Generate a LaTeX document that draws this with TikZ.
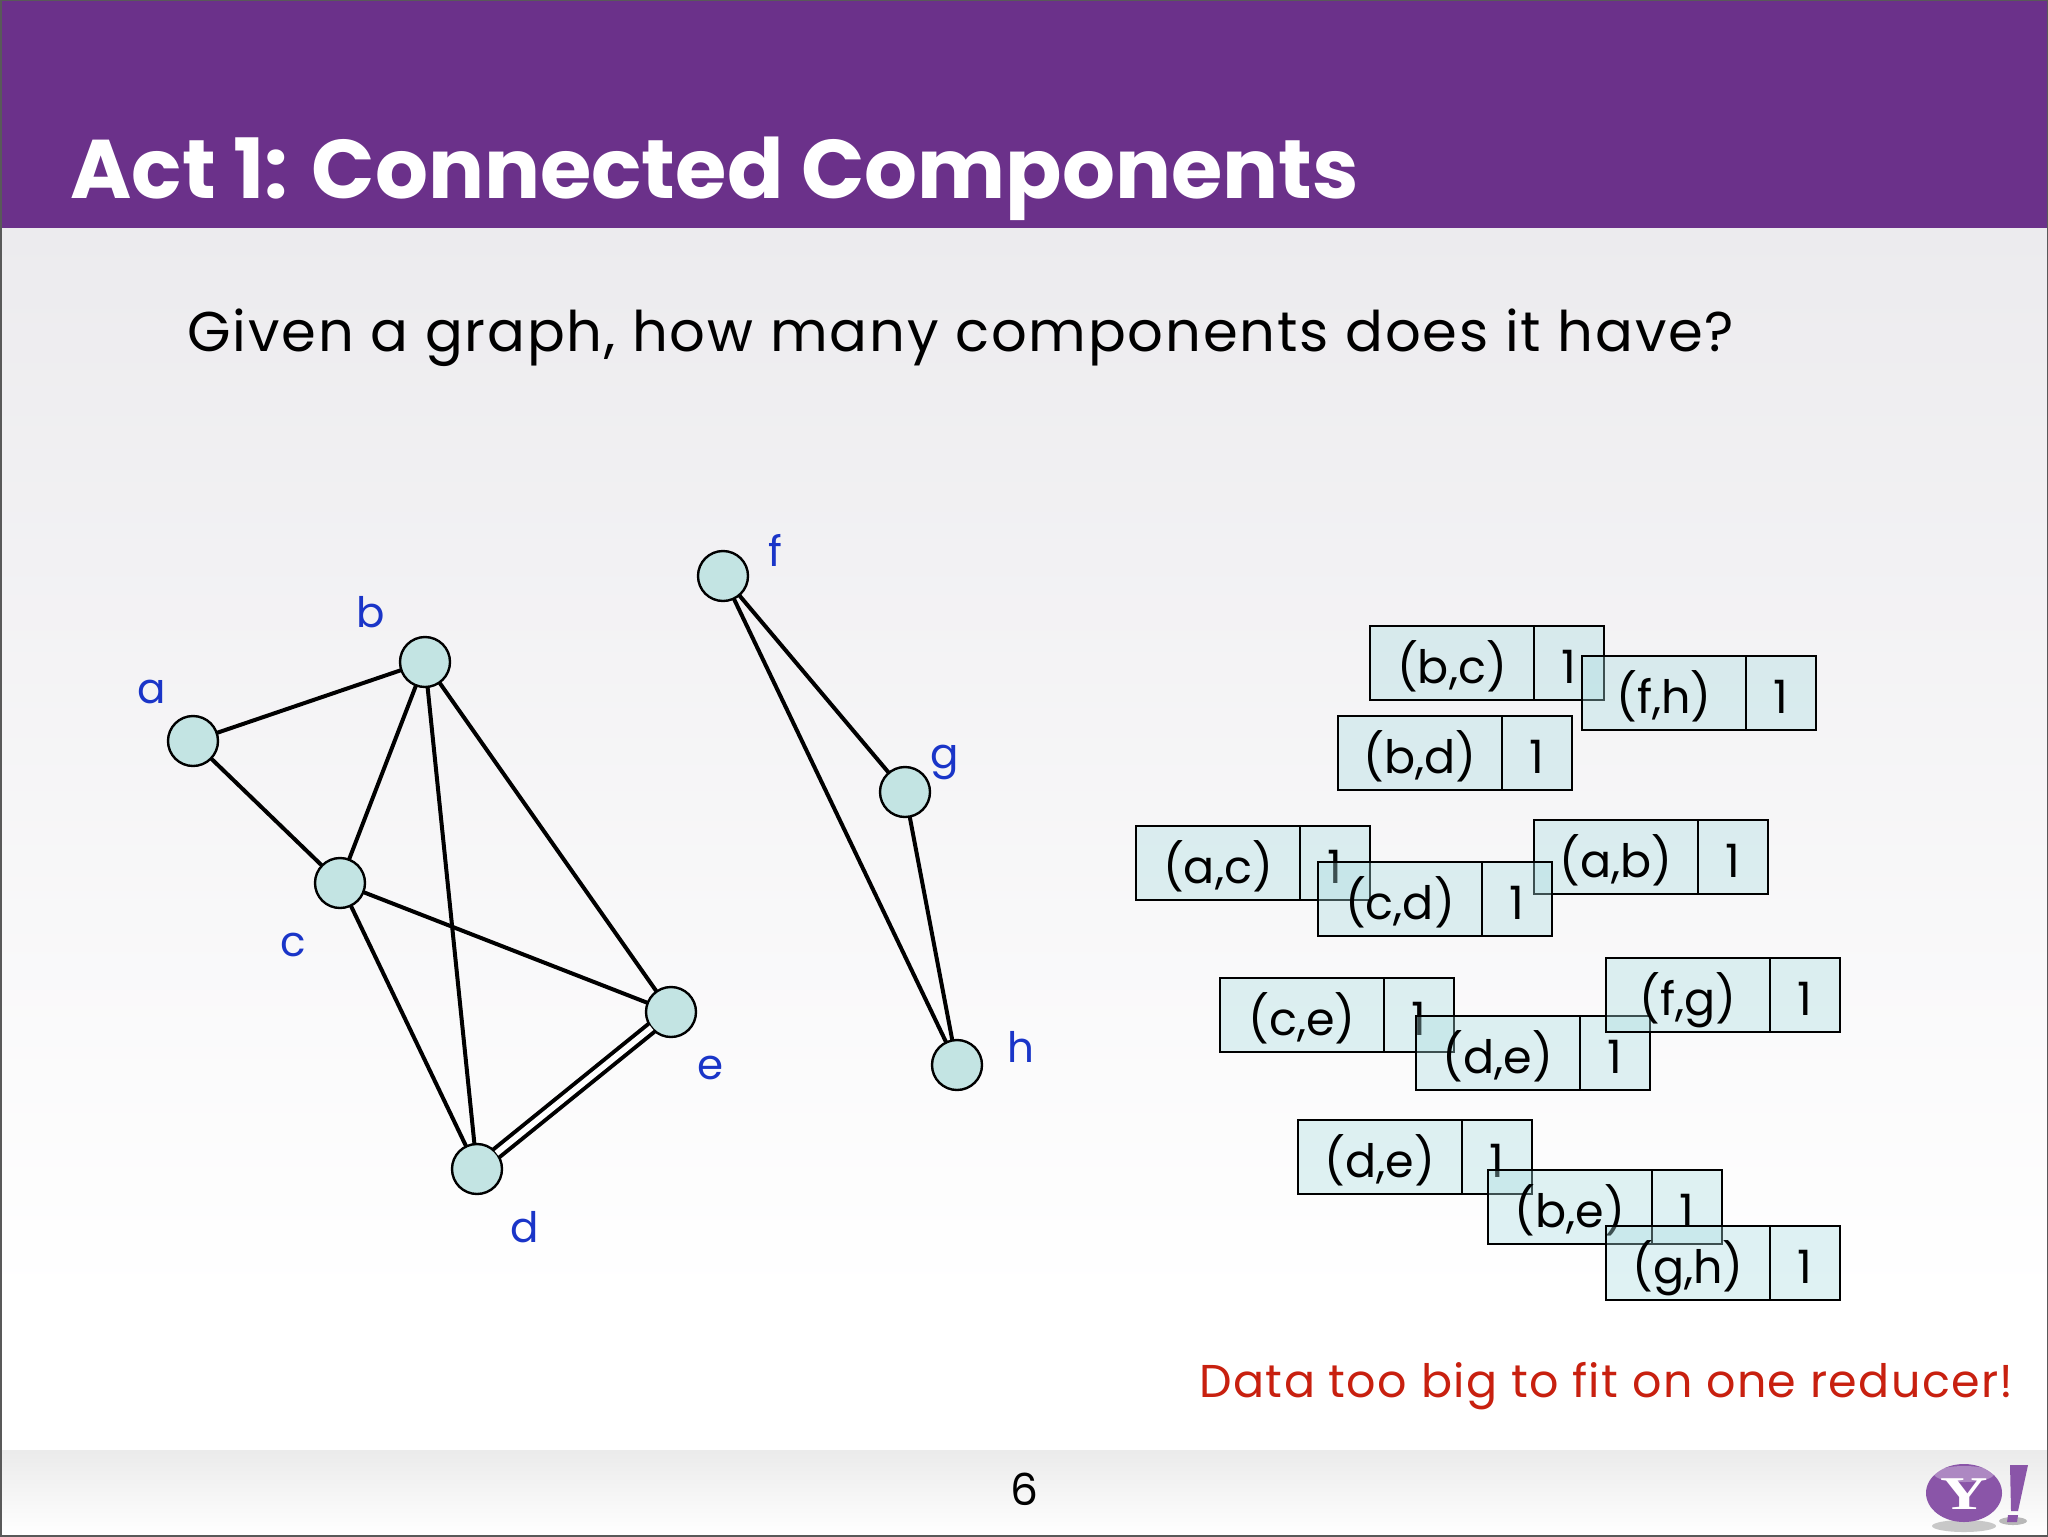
\documentclass[tikz,border=0pt]{standalone}
\usepackage{graphicx}
\usepackage{fontspec}
\setmainfont{Poppins}
\newfontfamily\yfont{Liberation Serif}
\definecolor{hdr}{HTML}{6B318A}
\definecolor{bgtop}{HTML}{ECEBEE}
\definecolor{bgmid}{HTML}{FAFAFC}
\definecolor{cellc}{HTML}{A8DCE0}
\definecolor{dotc}{HTML}{C3E4E3}
\definecolor{lab}{HTML}{1A35C8}
\definecolor{redt}{HTML}{C8200F}
\definecolor{logo}{HTML}{8A55A8}
\newcommand{\kvbox}[6]{%
  \node[kvcell,anchor=north west,minimum width=82pt,minimum height=37pt] (#1k) at (#2,#4) {#6};
  \node[kvcell,anchor=north west,minimum width=35pt,minimum height=37pt] (#1v) at (#3,#4) {1};
}
\tikzset{
  kvcell/.style={draw=black,line width=1.1pt,fill=cellc,fill opacity=.36,text opacity=1,inner sep=0pt,outer sep=0pt,
     text height=21pt,text depth=1pt,font=\fontsize{23}{27}\selectfont},
  vertex/.style={circle,draw=black,line width=1.2pt,fill=dotc,minimum size=25pt,inner sep=0pt,outer sep=0pt},
  edge/.style={draw=black,line width=2pt},
  dbl/.style={draw=black,line width=2pt,double=white,double distance=2.9pt},
  vlabel/.style={text=lab,inner sep=0pt,font=\fontsize{21}{25}\selectfont},
}
\begin{document}
\begin{tikzpicture}[x=0.5pt,y=-0.5pt]
\useasboundingbox (0,0) rectangle (2048,1536);
% background
\shade[top color=bgtop, middle color=bgmid, bottom color=white] (0,228) rectangle (2048,1300);
\fill[white] (0,1300) rectangle (2048,1450);
\shade[top color=black!8, bottom color=white] (0,1450) rectangle (2048,1536);
\fill[hdr] (0,0) rectangle (2048,228);
\draw[black!65,line width=1pt] (0.5,0.5) rectangle (2047.5,1535.5);
% texts
\node[anchor=base west,inner sep=0pt,text=white,font=\fontsize{41.6}{48}\bfseries\selectfont] (title) at (70,198) {Act 1: Connected Components};
\node[anchor=base west,inner sep=0pt,font=\fontsize{28}{32}\selectfont\addfontfeature{LetterSpace=3.2}] (sub) at (187,351) {Given a graph, how many components does it have?};
\node[anchor=base east,inner sep=0pt,text=redt,font=\fontsize{23}{27}\selectfont\addfontfeature{LetterSpace=3.1}] (warn) at (2014,1397) {Data too big to fit on one reducer!};
\node[inner sep=0pt,font=\fontsize{22}{26}\selectfont] (page) at (1024,1489) {6};
% graph
\node[vertex] (a) at (193,741) {};
\node[vertex] (b) at (425,662) {};
\node[vertex] (c) at (340,883) {};
\node[vertex] (d) at (477,1169) {};
\node[vertex] (e) at (671,1012) {};
\node[vertex] (f) at (723,576) {};
\node[vertex] (g) at (905,792) {};
\node[vertex] (h) at (957,1065) {};
\draw[edge] (a)--(b);
\draw[edge] (a)--(c);
\draw[edge] (b)--(c);
\draw[edge] (b)--(d);
\draw[edge] (b)--(e);
\draw[edge] (c)--(d);
\draw[edge] (c)--(e);
\draw[dbl] (d)--(e);
\draw[edge] (f)--(g);
\draw[edge] (f)--(h);
\draw[edge] (g)--(h);
\node[vlabel] (la) at (152,692) {a};
\node[vlabel] (lb) at (371,612) {b};
\node[vlabel] (lc) at (293,945) {c};
\node[vlabel] (ld) at (525,1227) {d};
\node[vlabel] (le) at (711,1068) {e};
\node[vlabel] (lf) at (775,550) {f};
\node[vlabel] (lg) at (945,762) {g};
\node[vlabel] (lh) at (1021,1047) {h};
% key-value records
\kvbox{bc}{1370}{1534}{626}{700}{(b,c)}
\kvbox{fh}{1582}{1746}{656}{730}{(f,h)}
\kvbox{bd}{1338}{1502}{716}{790}{(b,d)}
\kvbox{ab}{1534}{1698}{820}{894}{(a,b)}
\kvbox{ac}{1136}{1300}{826}{900}{(a,c)}
\kvbox{cd}{1318}{1482}{862}{936}{(c,d)}
\kvbox{ce}{1220}{1384}{978}{1052}{(c,e)}
\kvbox{de}{1416}{1580}{1016}{1090}{(d,e)}
\kvbox{fg}{1606}{1770}{958}{1032}{(f,g)}
\kvbox{dx}{1298}{1462}{1120}{1194}{(d,e)}
\kvbox{be}{1488}{1652}{1170}{1244}{(b,e)}
\kvbox{gh}{1606}{1770}{1226}{1300}{(g,h)}
% logo
\fill[black!35,opacity=.6] (1964,1526) ellipse (32 and 6);
\fill[black!45,opacity=.6] (2013,1521) ellipse (14 and 4);
\fill[logo] (1964,1493) ellipse (38 and 29);
\fill[white,opacity=.3] (1964,1474) ellipse (30 and 8);
\node[inner sep=0pt,text=white,font=\yfont\fontsize{23.5}{28}\bfseries\selectfont] (ylogo) at (1964,1494) {\scalebox{1.4}[1]{Y}};
\fill[logo] (2010,1465) -- (2028,1465) -- (2018,1511) -- (2011,1511) -- cycle;
\fill[logo] (2008,1515) -- (2018,1515) -- (2017,1522) -- (2007,1522) -- cycle;
\end{tikzpicture}
\end{document}
